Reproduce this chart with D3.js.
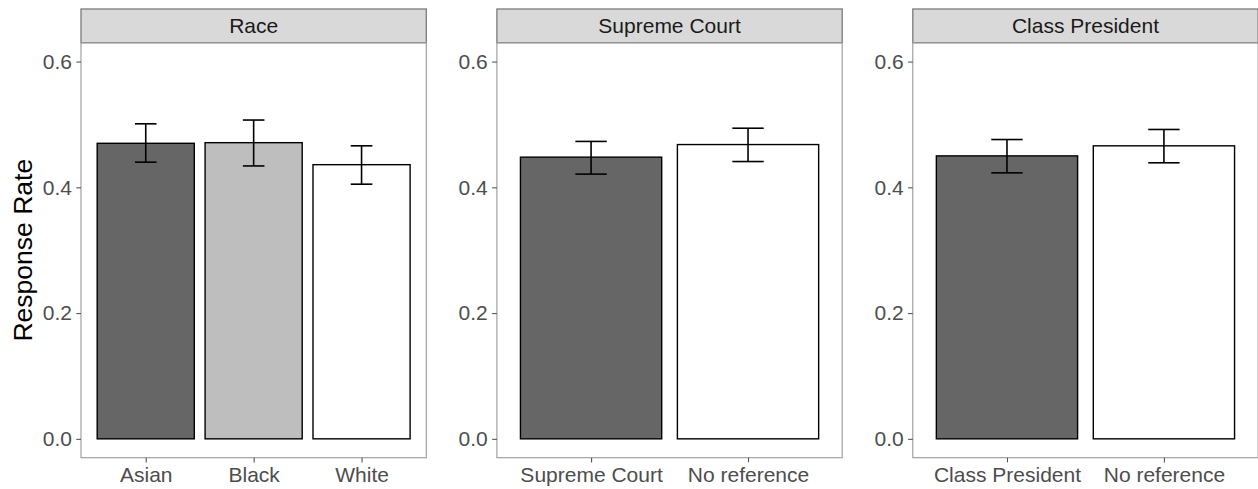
<!DOCTYPE html>
<html>
<head>
<meta charset="utf-8">
<script src="https://cdn.jsdelivr.net/npm/d3@7"></script>
<style>
  body { margin: 0; background: #fff; }
  svg { display: block; font-family: "Liberation Sans", Arial, sans-serif; }
</style>
</head>
<body>
<div id="chart"></div>
<script>
// facet titles
const panelTitles = ["Race", "Supreme Court", "Class President"];

// Race panel
const raceGroups = ["Asian", "Black", "White"];
const raceRate = [0.470, 0.471, 0.436];
const raceLower = [0.440, 0.434, 0.405];
const raceUpper = [0.501, 0.507, 0.466];

// Supreme Court panel
const courtGroups = ["Supreme Court", "No reference"];
const courtRate = [0.448, 0.468];
const courtLower = [0.421, 0.441];
const courtUpper = [0.473, 0.494];

// Class President panel
const presidentGroups = ["Class President", "No reference"];
const presidentRate = [0.450, 0.466];
const presidentLower = [0.423, 0.439];
const presidentUpper = [0.476, 0.492];

const yTicks = [0, 0.2, 0.4, 0.6];

const toRows = (groups, rate, lo, hi) =>
  groups.map((g, i) => ({ group: g, rate: rate[i], lower: lo[i], upper: hi[i] }));

const panels = [
  toRows(raceGroups, raceRate, raceLower, raceUpper),
  toRows(courtGroups, courtRate, courtLower, courtUpper),
  toRows(presidentGroups, presidentRate, presidentLower, presidentUpper),
];

const fillColor = d3.scaleOrdinal()
  .domain(["Asian", "Black", "White", "Supreme Court", "Class President", "No reference"])
  .range(["#666666", "#BEBEBE", "#FFFFFF", "#666666", "#666666", "#FFFFFF"]);

const W = 1258, H = 489;
const left = 81, panelW = 345.3, gap = 70.6;
const stripTop = 9, panelTop = 42.7, panelBottom = 457.7;
const tickLen = 4.7;
const textSize = 21;

const svg = d3.select("#chart").append("svg")
  .attr("width", W).attr("height", H);

const y = d3.scaleLinear().domain([-0.03, 0.63]).range([panelBottom, panelTop]);

// y axis title
svg.append("text")
  .attr("transform", `translate(32,${(panelTop + panelBottom) / 2}) rotate(-90)`)
  .attr("text-anchor", "middle")
  .attr("font-size", 26.5)
  .attr("fill", "#000")
  .text("Response Rate");

panels.forEach((rows, i) => {
  const x0 = left + i * (panelW + gap);
  const g = svg.append("g");

  const x = d3.scalePoint()
    .domain(rows.map(d => d.group))
    .range([x0, x0 + panelW])
    .padding(0.6);
  const step = x.step();
  const barW = step * 0.9, errW = step * 0.2;

  // strip
  g.append("rect")
    .attr("x", x0).attr("y", stripTop)
    .attr("width", panelW).attr("height", panelTop - stripTop)
    .attr("fill", "#D9D9D9").attr("stroke", "#7a7a7a").attr("stroke-width", 1.3);
  g.append("text")
    .attr("x", x0 + panelW / 2).attr("y", 33.4)
    .attr("text-anchor", "middle")
    .attr("font-size", textSize)
    .attr("fill", "#1A1A1A")
    .text(panelTitles[i]);

  // bars
  g.selectAll(".bar").data(rows).join("rect")
    .attr("class", "bar")
    .attr("x", d => x(d.group) - barW / 2)
    .attr("y", d => y(d.rate))
    .attr("width", barW)
    .attr("height", d => y(0) - y(d.rate))
    .attr("fill", d => fillColor(d.group))
    .attr("stroke", "#000").attr("stroke-width", 1.4);

  // error bars
  const eb = g.selectAll(".err").data(rows).join("g").attr("class", "err")
    .attr("stroke", "#000").attr("stroke-width", 1.6).attr("fill", "none");
  eb.append("line")
    .attr("x1", d => x(d.group)).attr("x2", d => x(d.group))
    .attr("y1", d => y(d.lower)).attr("y2", d => y(d.upper));
  eb.append("line")
    .attr("x1", d => x(d.group) - errW / 2).attr("x2", d => x(d.group) + errW / 2)
    .attr("y1", d => y(d.upper)).attr("y2", d => y(d.upper));
  eb.append("line")
    .attr("x1", d => x(d.group) - errW / 2).attr("x2", d => x(d.group) + errW / 2)
    .attr("y1", d => y(d.lower)).attr("y2", d => y(d.lower));

  // panel border
  g.append("rect")
    .attr("x", x0).attr("y", panelTop)
    .attr("width", panelW).attr("height", panelBottom - panelTop)
    .attr("fill", "none").attr("stroke", "#999").attr("stroke-width", 1.1);

  // axes
  const ya = g.append("g")
    .attr("transform", `translate(${x0},0)`)
    .call(d3.axisLeft(y).tickValues(yTicks).tickFormat(d3.format(".1f"))
      .tickSize(tickLen).tickPadding(4.4));
  const xa = g.append("g")
    .attr("transform", `translate(0,${panelBottom})`)
    .call(d3.axisBottom(x).tickSize(tickLen).tickPadding(4.4));

  [ya, xa].forEach(a => {
    a.select(".domain").remove();
    a.selectAll(".tick line").attr("stroke", "#555").attr("stroke-width", 1.1);
    a.selectAll("text")
      .attr("font-family", "Liberation Sans, Arial, sans-serif")
      .attr("font-size", textSize)
      .attr("fill", "#4D4D4D");
  });
});
</script>
</body>
</html>
